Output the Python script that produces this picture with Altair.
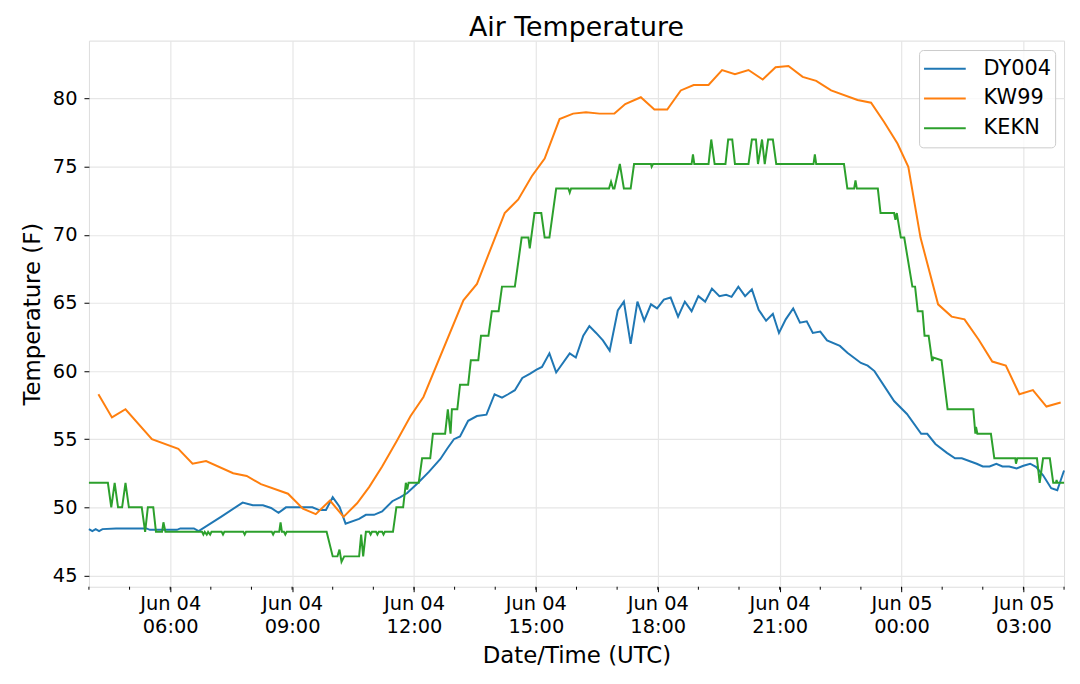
import altair as alt
import pandas as pd

# ---------------- data ----------------
chart_title = "Air Temperature"
series_names = ["DY004", "KW99", "KEKN"]
series_colors = ["#1f77b4", "#ff7f0e", "#2ca02c"]

dy004_times = ["04:00", "04:05", "04:10", "04:15", "04:20", "04:40", "05:25", "05:30", "06:10",
               "06:15", "06:35", "06:42", "07:15", "07:47", "08:02", "08:17", "08:29", "08:40",
               "08:51", "09:11", "09:30", "09:40", "09:50", "10:00", "10:10", "10:19", "10:39",
               "10:49", "11:01", "11:13", "11:28", "11:40", "11:50", "12:05", "12:22", "12:39",
               "12:49", "12:59", "13:08", "13:20", "13:33", "13:47", "13:59", "14:10", "14:19",
               "14:29", "14:40", "14:51", "15:01", "15:09", "15:20", "15:30", "15:50", "15:59",
               "16:10", "16:19", "16:29", "16:39", "16:49", "17:01", "17:10", "17:20", "17:30",
               "17:40", "17:50", "17:59", "18:09", "18:19", "18:30", "18:40", "18:50", "19:00",
               "19:10", "19:20", "19:31", "19:41", "19:49", "19:59", "20:09", "20:19", "20:29",
               "20:40", "20:50", "20:59", "21:09", "21:20", "21:30", "21:40", "21:49", "22:00",
               "22:10", "22:29", "22:40", "23:00", "23:10", "23:20", "23:49", "00:08", "00:29",
               "00:38", "00:50", "01:07", "01:19", "01:29", "01:51", "02:00", "02:10", "02:20",
               "02:29", "02:39", "02:50", "03:00", "03:10", "03:19", "03:29", "03:41", "03:50",
               "04:00"]
dy004_vals = [48.4, 48.25, 48.4, 48.25, 48.4, 48.45, 48.45, 48.35, 48.35,
              48.45, 48.45, 48.25, 49.3, 50.35, 50.15, 50.15, 49.95, 49.6,
              50.0, 50.0, 50.0, 49.8, 49.8, 50.75, 50.05, 48.8, 49.15,
              49.45, 49.45, 49.7, 50.45, 50.75, 51.05, 51.75, 52.6, 53.55,
              54.3, 55.0, 55.2, 56.35, 56.7, 56.8, 58.3, 58.05, 58.3,
              58.6, 59.5, 59.8, 60.1, 60.3, 61.3, 59.9, 61.3, 61.0,
              62.6, 63.3, 62.8, 62.25, 61.5, 64.45, 65.1, 62.0, 65.1,
              63.7, 64.9, 64.6, 65.25, 65.4, 64.0, 65.1, 64.4, 65.5,
              65.1, 66.05, 65.5, 65.6, 65.45, 66.2, 65.5, 66.0, 64.5,
              63.7, 64.2, 62.8, 63.8, 64.6, 63.55, 63.65, 62.8, 62.9,
              62.25, 61.85, 61.35, 60.6, 60.4, 60.0, 57.8, 56.85, 55.4,
              55.4, 54.65, 54.0, 53.6, 53.6, 53.2, 53.0, 53.0, 53.2,
              53.0, 53.0, 52.85, 53.05, 53.2, 52.95, 52.35, 51.4, 51.25,
              52.7]

kw99_times = ["04:14", "04:34", "04:54", "05:33", "06:12", "06:33", "06:53", "07:33", "07:53",
              "08:14", "08:54", "09:16", "09:35", "09:56", "10:16", "10:36", "10:54", "11:13",
              "11:35", "11:55", "12:14", "13:13", "13:33", "14:14", "14:34", "14:54", "15:13",
              "15:35", "15:55", "16:14", "16:34", "16:56", "17:12", "17:35", "17:55", "18:14",
              "18:34", "18:53", "19:15", "19:35", "19:54", "20:14", "20:35", "20:54", "21:13",
              "21:34", "21:54", "22:16", "22:55", "23:15", "23:34", "23:54", "00:10", "00:28",
              "00:54", "01:14", "01:33", "01:54", "02:14", "02:34", "02:54", "03:14", "03:34",
              "03:55"]
kw99_vals = [58.3, 56.6, 57.2, 55.0, 54.3, 53.2, 53.4, 52.5, 52.3,
             51.7, 51.0, 49.9, 49.5, 50.5, 49.3, 50.3, 51.5, 53.0,
             54.9, 56.7, 58.1, 65.2, 66.4, 71.6, 72.6, 74.3, 75.6,
             78.5, 78.9, 79.0, 78.9, 78.9, 79.6, 80.1, 79.2, 79.2,
             80.6, 81.0, 81.0, 82.1, 81.8, 82.1, 81.4, 82.3, 82.4,
             81.6, 81.3, 80.6, 79.9, 79.7, 78.3, 76.7, 75.0, 69.8,
             64.9, 64.0, 63.8, 62.3, 60.7, 60.4, 58.3, 58.6, 57.4,
             57.7]

kekn_times = ["04:00", "04:28", "04:33", "04:38", "04:43", "04:49", "04:54", "04:59", "05:18",
              "05:23", "05:27", "05:35", "05:39", "05:48", "05:50", "05:53", "06:47", "06:49",
              "06:51", "06:54", "06:56", "06:59", "07:01", "07:16", "07:18", "07:20", "07:48",
              "07:50", "07:52", "08:30", "08:32", "08:34", "08:41", "08:43", "08:45", "08:48",
              "08:50", "08:52", "09:51", "10:00", "10:07", "10:10", "10:13", "10:17", "10:39",
              "10:42", "10:45", "10:49", "10:54", "10:56", "10:58", "11:04", "11:06", "11:08",
              "11:13", "11:15", "11:17", "11:29", "11:34", "11:44", "11:48", "11:50", "11:52",
              "12:07", "12:12", "12:24", "12:28", "12:46", "12:50", "12:54", "12:56", "13:04",
              "13:08", "13:20", "13:24", "13:35", "13:39", "13:50", "13:55", "14:05", "14:10",
              "14:29", "14:39", "14:49", "14:51", "14:58", "15:08", "15:13", "15:20", "15:30",
              "15:48", "15:50", "15:52", "16:48", "16:51", "16:54", "16:56", "17:04", "17:10",
              "17:20", "17:25", "17:50", "17:51", "17:53", "18:50", "18:52", "18:54", "19:15",
              "19:19", "19:24", "19:40", "19:44", "19:50", "19:54", "20:14", "20:19", "20:25",
              "20:28", "20:34", "20:38", "20:43", "20:50", "20:55", "21:50", "21:52", "21:54",
              "22:35", "22:40", "22:50", "22:52", "22:54", "23:25", "23:29", "23:49", "23:51",
              "23:53", "23:59", "00:04", "00:16", "00:20", "00:24", "00:31", "00:34", "00:40",
              "00:45", "00:46", "00:47", "00:59", "01:08", "01:46", "01:49", "01:50", "01:52",
              "02:12", "02:17", "02:48", "02:49", "02:51", "03:20", "03:24", "03:29", "03:39",
              "03:44", "03:48", "03:49", "03:50", "04:00"]
kekn_vals = [51.8, 51.8, 50.0, 51.8, 50.0, 50.0, 51.8, 50.0, 50.0,
             48.2, 50.0, 50.0, 48.2, 48.2, 48.9, 48.2, 48.2, 48.0,
             48.2, 48.0, 48.2, 48.0, 48.2, 48.2, 48.0, 48.2, 48.2,
             48.0, 48.2, 48.2, 48.0, 48.2, 48.2, 48.9, 48.2, 48.2,
             48.0, 48.2, 48.2, 46.4, 46.4, 46.9, 46.0, 46.4, 46.4,
             48.0, 46.4, 48.2, 48.2, 48.0, 48.2, 48.2, 48.0, 48.2,
             48.2, 48.0, 48.2, 48.2, 50.0, 50.0, 51.8, 51.3, 51.8,
             51.8, 53.6, 53.6, 55.4, 55.4, 57.2, 55.4, 57.2, 57.2,
             59.0, 59.0, 60.8, 60.8, 62.6, 62.6, 64.4, 64.4, 66.2,
             66.2, 69.8, 69.8, 69.0, 71.6, 71.6, 69.8, 69.8, 73.4,
             73.4, 73.1, 73.4, 73.4, 73.9, 73.4, 73.4, 75.2, 73.4,
             73.4, 75.2, 75.2, 75.0, 75.2, 75.2, 75.9, 75.2, 75.2,
             77.0, 75.2, 75.2, 77.0, 77.0, 75.2, 75.2, 77.0, 77.0,
             75.2, 77.0, 75.2, 77.0, 77.0, 75.2, 75.2, 75.9, 75.2,
             75.2, 73.4, 73.4, 74.0, 73.4, 73.4, 71.6, 71.6, 71.1,
             71.6, 69.8, 69.8, 66.2, 66.2, 64.4, 64.4, 62.6, 62.6,
             60.8, 60.8, 61.0, 60.8, 57.2, 57.2, 55.4, 55.9, 55.4,
             55.4, 53.6, 53.6, 53.2, 53.6, 53.6, 51.8, 53.6, 53.6,
             51.8, 51.8, 52.0, 51.8, 51.8]

major_tick_times = ["06:00", "09:00", "12:00", "15:00", "18:00", "21:00", "00:00", "03:00"]
minor_tick_times = ["04:00", "05:00", "06:00", "07:00", "08:00", "09:00", "10:00", "11:00",
                    "12:00", "13:00", "14:00", "15:00", "16:00", "17:00", "18:00", "19:00",
                    "20:00", "21:00", "22:00", "23:00", "00:00", "01:00", "02:00", "03:00",
                    "04:00"]
y_ticks = [45, 50, 55, 60, 65, 70, 75, 80]
x_range = ["04:00", "04:00"]
y_range = [44.17, 84.26]


def to_iso(times, start_day=4):
    """Clock times in chronological order; a wrap past midnight moves to the next day."""
    out, day, prev = [], start_day, -1
    for t in times:
        h, m = map(int, t.split(":"))
        mins = h * 60 + m
        if mins < prev:
            day += 1
        prev = mins
        out.append(f"2019-06-{day:02d}T{h:02d}:{m:02d}:00Z")
    return out


def to_ms(iso):
    return int(pd.Timestamp(iso).value // 10**6)


frames = []
for name, times, vals in [("DY004", dy004_times, dy004_vals),
                          ("KW99", kw99_times, kw99_vals),
                          ("KEKN", kekn_times, kekn_vals)]:
    frames.append(pd.DataFrame({"t": to_iso(times), "temp": vals, "station": name}))
df = pd.concat(frames, ignore_index=True)

minor_df = pd.DataFrame({"t": to_iso(minor_tick_times)})
major_vals = [to_ms(s) for s in to_iso(major_tick_times)]
domain_x = [to_ms(s) for s in to_iso(x_range)]
domain_x[1] = domain_x[0] + 24 * 3600 * 1000 if domain_x[1] <= domain_x[0] else domain_x[1]

W, H = 982, 550
FONT = "DejaVu Sans"

x_axis = alt.Axis(
    values=major_vals,
    labelExpr="[utcFormat(datum.value, '%b %d'), utcFormat(datum.value, '%H:%M')]",
    title="Date/Time (UTC)",
    titleFontSize=23, titleFont=FONT, titleFontWeight="normal", titleColor="black",
    titleY=76, titleBaseline="alphabetic",
    labelFontSize=19.5, labelFont=FONT, labelColor="black",
    labelLineHeight=23, labelPadding=3,
    tickSize=5, tickColor="black", tickWidth=1,
    grid=True, gridColor="#e6e6e6", gridWidth=1.2,
    domain=False, labelFlush=False, labelOverlap=False,
)
x_enc = alt.X("t:T", scale=alt.Scale(type="utc", domain=domain_x, nice=False), axis=x_axis)

lines = alt.Chart(df).mark_line(strokeWidth=2, interpolate="linear").encode(
    x=x_enc,
    y=alt.Y("temp:Q",
            scale=alt.Scale(domain=y_range, nice=False, zero=False),
            axis=alt.Axis(values=y_ticks, title="Temperature (F)",
                          titleFontSize=23, titleFont=FONT, titleFontWeight="normal",
                          titleColor="black", titleX=-50, titleBaseline="alphabetic",
                          labelFontSize=19.5, labelFont=FONT, labelColor="black",
                          labelPadding=7, tickSize=5, tickColor="black",
                          grid=True, gridColor="#e6e6e6", gridWidth=1.2,
                          domain=False)),
    color=alt.Color("station:N",
                    scale=alt.Scale(domain=series_names, range=series_colors),
                    sort=series_names,
                    legend=alt.Legend(title=None, orient="none", legendX=836, legendY=9.5,
                                      symbolType="stroke", symbolSize=1764,
                                      symbolStrokeWidth=2, clipHeight=29.5, rowPadding=0,
                                      labelOffset=17, labelFontSize=21, labelFont=FONT,
                                      labelColor="black", labelLimit=300,
                                      padding=4, strokeColor="#cccccc", cornerRadius=4,
                                      fillColor="rgba(255,255,255,0.8)")),
    detail="station:N",
)

minor = alt.Chart(minor_df).mark_rule(color="black", strokeWidth=1).encode(
    x=x_enc,
    y=alt.value(H),
    y2=alt.value(H + 3),
)

title_text = alt.Chart(pd.DataFrame({"label": [chart_title]})).mark_text(
    font=FONT, fontSize=27, color="black", align="center", baseline="alphabetic",
).encode(
    text="label:N",
    x=alt.value(W / 2),
    y=alt.value(-5),
)

chart = alt.layer(lines, minor, title_text).properties(
    width=W, height=H,
    autosize=alt.AutoSizeParams(type="none"),
    padding={"left": 81.5, "top": 30.5, "right": 8, "bottom": 80},
).configure_view(stroke="black", strokeWidth=1.2).configure(background="white")

chart.save("out.html", embed_options={"renderer": "svg", "actions": False})
